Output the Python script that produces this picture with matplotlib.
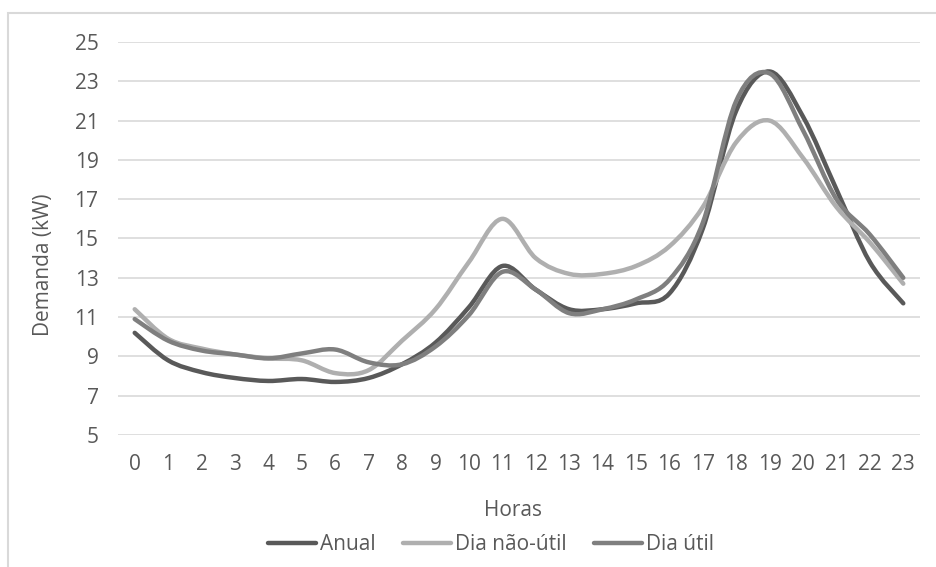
import numpy as np
from matplotlib import pyplot as plt
from matplotlib.path import Path
from matplotlib.patches import PathPatch, Rectangle
from matplotlib.lines import Line2D

plt.rcParams['font.family'] = ['Open Sans', 'DejaVu Sans']

horas = list(range(24))

anual = [10.2, 8.8, 8.2, 7.9, 7.75, 7.85, 7.7, 7.9, 8.6, 9.7, 11.5, 13.6,
         12.4, 11.4, 11.4, 11.7, 12.2, 15.5, 21.5, 23.5, 21.2, 17.5, 13.8, 11.7]
dia_nao_util = [11.4, 9.9, 9.4, 9.1, 8.9, 8.8, 8.15, 8.3, 9.8, 11.4, 13.8, 16.0,
                14.0, 13.2, 13.2, 13.6, 14.6, 16.6, 19.9, 21.0, 19.1, 16.6, 14.8, 12.7]
dia_util = [10.9, 9.8, 9.3, 9.1, 8.9, 9.15, 9.35, 8.7, 8.6, 9.5, 11.1, 13.3,
            12.4, 11.2, 11.4, 11.9, 12.9, 15.8, 22.0, 23.4, 20.5, 17.0, 15.2, 13.0]

series = [
    ('Anual', anual, '#595959'),
    ('Dia não-útil', dia_nao_util, '#afafaf'),
    ('Dia útil', dia_util, '#7f7f7f'),
]

text_color = '#595959'
grid_color = '#d9d9d9'
lw = 3.2
fs = 15


def smooth_path(x, y):
    # cubic bezier through every point, control points from neighbours (like a spreadsheet "smoothed line")
    pts = np.column_stack([x, y]).astype(float)
    pad = np.vstack([pts[:1], pts, pts[-1:]])
    verts = [pts[0]]
    codes = [Path.MOVETO]
    for i in range(len(pts) - 1):
        p0, p1, p2, p3 = pad[i], pad[i + 1], pad[i + 2], pad[i + 3]
        c1 = p1 + (p2 - p0) / 6
        c2 = p2 - (p3 - p1) / 6
        verts += [c1, c2, p2]
        codes += [Path.CURVE4] * 3
    return Path(verts, codes)


fig = plt.figure(figsize=(9.36, 5.67), dpi=100)
ax = fig.add_axes([118 / 936, 1 - 435 / 567, 802 / 936, 393 / 567])

for name, vals, color in series:
    ax.add_patch(PathPatch(smooth_path(horas, vals), facecolor='none', edgecolor=color,
                           lw=lw, capstyle='round', joinstyle='round', zorder=3))

ax.set_xlim(-0.5, 23.5)
ax.set_ylim(5, 25)
ax.set_xticks(horas)
ax.set_yticks(range(5, 26, 2))
ax.grid(axis='y', color=grid_color, lw=1.2)
ax.set_axisbelow(True)
for s in ax.spines.values():
    s.set_visible(False)
ax.tick_params(length=0, labelsize=fs, labelcolor=text_color)
ax.tick_params(axis='y', pad=14)
ax.tick_params(axis='x', pad=14)

ax.set_ylabel('Demanda (kW)', fontsize=fs, color=text_color, va='center')
ax.yaxis.set_label_coords((43 - 118) / 802, 1 - (265 - 42) / 393)
ax.set_xlabel('Horas', fontsize=fs, color=text_color, va='center')
ax.xaxis.set_label_coords((513 - 118) / 802, -(510 - 435) / 393)

handles = [Line2D([0], [0], color=c, lw=lw, solid_capstyle='round') for _, _, c in series]
leg = fig.legend(handles, [n for n, _, _ in series], loc='center',
                 bbox_to_anchor=(491 / 936, 1 - 545 / 567), ncol=3, frameon=False,
                 fontsize=fs, handlelength=2.3, handletextpad=0.2, columnspacing=1.3,
                 borderpad=0, borderaxespad=0)
for t in leg.get_texts():
    t.set_color(text_color)

# chart area border
fig.patches.append(Rectangle((8 / 936, -0.05), 1.0, 1 - 13 / 567 + 0.05,
                             transform=fig.transFigure, fill=False,
                             edgecolor=grid_color, lw=1.5))

fig.savefig('out.png', dpi=100)
